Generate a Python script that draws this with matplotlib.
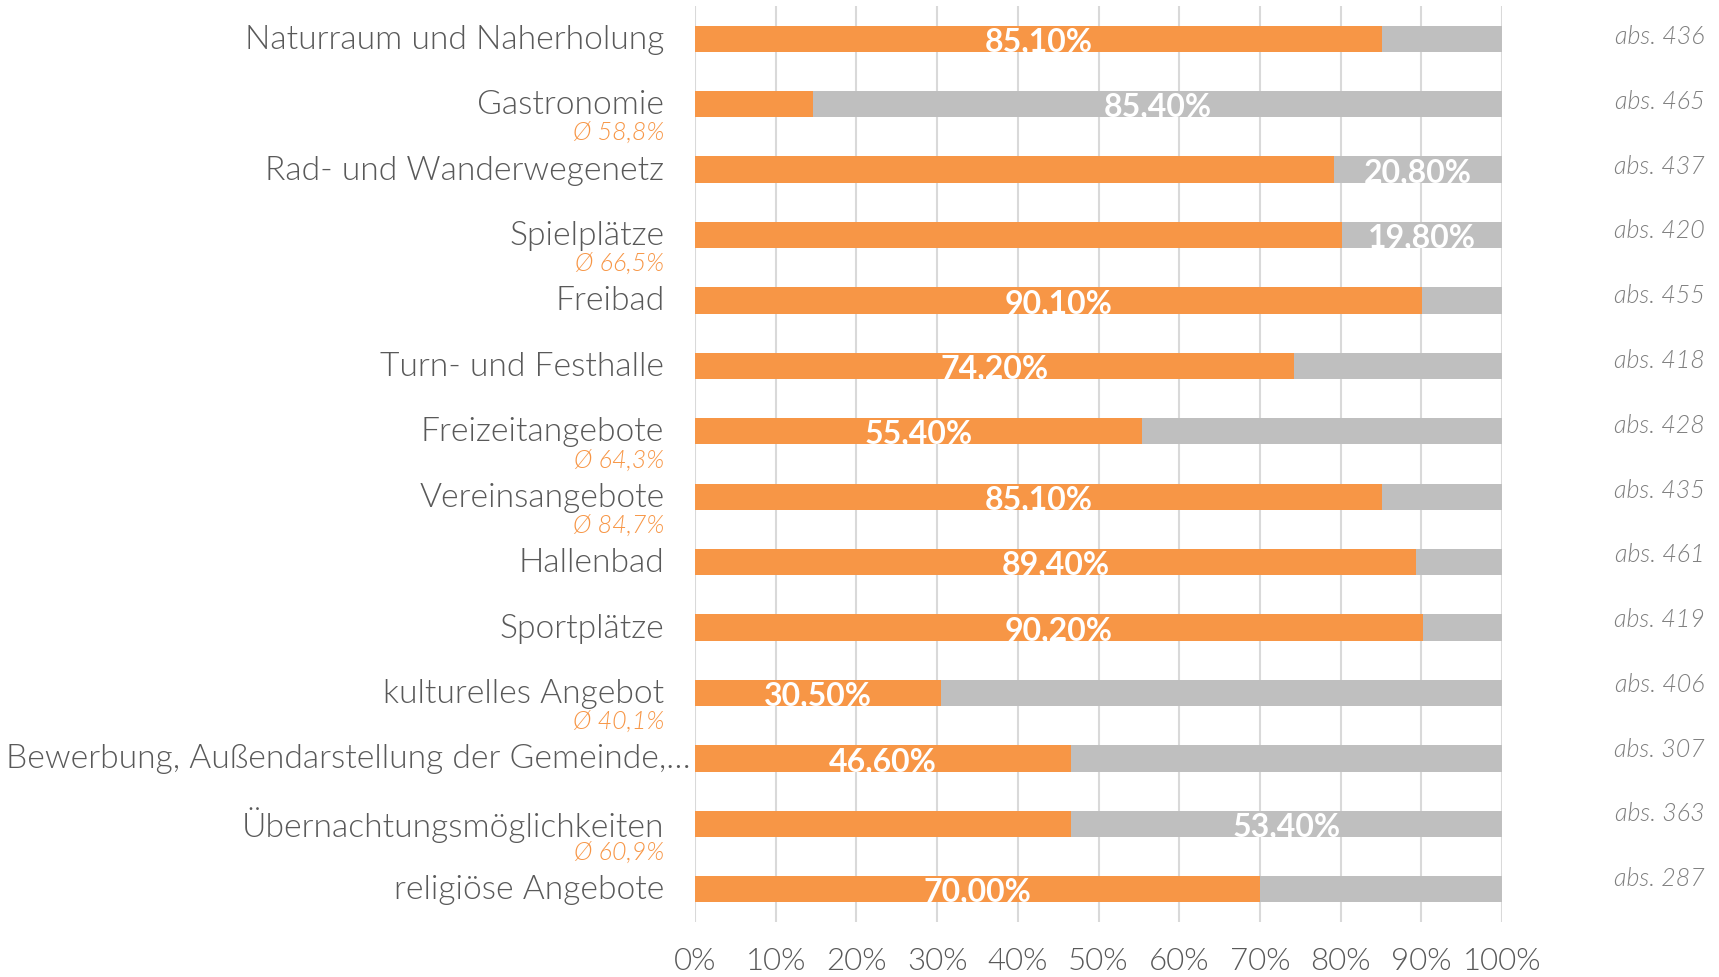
import numpy as np
import matplotlib.pyplot as plt
from matplotlib.transforms import blended_transform_factory

# Categories top to bottom
categories = [
    "Naturraum und Naherholung",
    "Gastronomie",
    "Rad- und Wanderwegenetz",
    "Spielplätze",
    "Freibad",
    "Turn- und Festhalle",
    "Freizeitangebote",
    "Vereinsangebote",
    "Hallenbad",
    "Sportplätze",
    "kulturelles Angebot",
    "Bewerbung, Außendarstellung der Gemeinde,…",
    "Übernachtungsmöglichkeiten",
    "religiöse Angebote",
]
# orange share (%) and grey share (%)
orange_values = [85.1, 14.6, 79.2, 80.2, 90.1, 74.2, 55.4, 85.1, 89.4, 90.2, 30.5, 46.6, 46.6, 70.0]
grey_values = [14.9, 85.4, 20.8, 19.8, 9.9, 25.8, 44.6, 14.9, 10.6, 9.8, 69.5, 53.4, 53.4, 30.0]
# which segment carries the value label
label_segment = ["o", "g", "g", "g", "o", "o", "o", "o", "o", "o", "o", "o", "g", "o"]
# average sub-labels (empty = none)
averages = ["", "Ø 58,8%", "", "Ø 66,5%", "", "", "Ø 64,3%", "Ø 84,7%", "", "", "Ø 40,1%", "", "Ø 60,9%", ""]
abs_counts = [436, 465, 437, 420, 455, 418, 428, 435, 461, 419, 406, 307, 363, 287]
x_ticks = [0, 10, 20, 30, 40, 50, 60, 70, 80, 90, 100]

ORANGE = "#F79646"
GREY = "#BFBFBF"
TEXT = "#595959"
FONT = "Lato"

plt.rcParams["font.family"] = [FONT, "DejaVu Sans"]

fig = plt.figure(figsize=(17.19, 9.78), dpi=100)
ax = fig.add_axes([695 / 1719, 55 / 978, 807 / 1719, 916 / 978])

y = np.arange(len(categories))
orange = np.array(orange_values)
grey = np.array(grey_values)

ax.barh(y, orange, height=0.4, color=ORANGE, zorder=2)
ax.barh(y, grey, left=orange, height=0.4, color=GREY, zorder=2)

ax.set_xlim(0, 100)
ax.set_ylim(len(categories) - 0.5, -0.5)
ax.set_xticks(x_ticks)
ax.set_xticklabels([f"{t}%" for t in x_ticks], fontsize=22.5, color=TEXT,
                   fontweight=300)
ax.tick_params(axis="x", length=0, pad=17)
ax.set_yticks([])
for s in ax.spines.values():
    s.set_visible(False)
ax.grid(axis="x", color="#D9D9D9", linewidth=1.5, zorder=0)
ax.set_axisbelow(True)

trans = blended_transform_factory(ax.transAxes, ax.transData)
for i, name in enumerate(categories):
    xr = -0.038 if not name.endswith("…") else -0.006
    ax.text(xr, i, name, transform=trans, ha="right", va="center",
            fontsize=24.2, color=TEXT, fontweight=300)
    if averages[i]:
        ax.text(-0.038, i + 0.43, averages[i], transform=trans, ha="right",
                va="center", fontsize=18, color=ORANGE, style="italic",
                fontweight=300)
    if label_segment[i] == "o":
        xc = orange[i] / 2
        val = orange[i]
    else:
        xc = orange[i] + grey[i] / 2
        val = grey[i]
    ax.text(xc, i + 0.03, f"{val:.2f}%".replace(".", ","), ha="center",
            va="center", fontsize=23, color="white", fontweight="bold")
    ax.text(1.251, i - 0.04 - 0.01 * i, f"abs. {abs_counts[i]}", transform=trans,
            ha="right", va="center", fontsize=18, color="#7F7F7F",
            style="italic", fontweight=300)

fig.savefig("out.png", dpi=100)
